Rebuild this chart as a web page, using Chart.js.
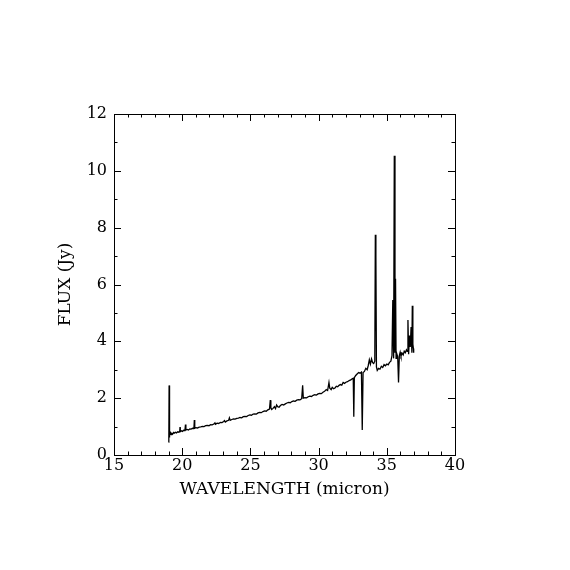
<!DOCTYPE html>
<html>
<head>
<meta charset="utf-8">
<script src="https://cdn.jsdelivr.net/npm/chart.js@4/dist/chart.umd.min.js"></script>
<style>
  html, body { margin: 0; padding: 0; background: #fff; }
  #wrap { width: 570px; height: 570px; }
</style>
</head>
<body>
<div id="wrap"><canvas id="chartFlux"></canvas></div>
<script>
// wavelength (micron) and flux (Jy)
const wavelength = [
  19.00, 19.02, 19.04, 19.05, 19.06, 19.08, 19.10, 19.14, 19.18, 19.24,
  19.30, 19.36, 19.42, 19.50, 19.58, 19.66, 19.74, 19.82, 19.84, 19.86,
  19.94, 20.02, 20.10, 20.20, 20.24, 20.27, 20.36, 20.46, 20.56, 20.66,
  20.76, 20.86, 20.89, 20.92, 21.00, 21.12, 21.24, 21.36, 21.48, 21.60,
  21.72, 21.84, 21.96, 22.08, 22.20, 22.32, 22.40, 22.44, 22.56, 22.68,
  22.80, 22.92, 23.04, 23.10, 23.16, 23.28, 23.40, 23.46, 23.52, 23.64,
  23.76, 23.88, 24.00, 24.12, 24.24, 24.36, 24.48, 24.60, 24.72, 24.84,
  24.96, 25.08, 25.20, 25.32, 25.44, 25.56, 25.68, 25.80, 25.92, 26.04,
  26.16, 26.28, 26.40, 26.46, 26.50, 26.56, 26.66, 26.76, 26.84, 26.92,
  27.00, 27.10, 27.20, 27.32, 27.44, 27.56, 27.68, 27.80, 27.92, 28.04,
  28.16, 28.28, 28.40, 28.52, 28.64, 28.76, 28.83, 28.88, 29.00, 29.12,
  29.24, 29.36, 29.48, 29.60, 29.72, 29.84, 29.96, 30.08, 30.20, 30.32,
  30.44, 30.56, 30.66, 30.76, 30.82, 30.92, 31.00, 31.10, 31.20, 31.30,
  31.40, 31.50, 31.60, 31.70, 31.80, 31.90, 32.00, 32.12, 32.24, 32.36,
  32.46, 32.54, 32.58, 32.62, 32.72, 32.84, 32.94, 33.04, 33.14, 33.20,
  33.26, 33.36, 33.46, 33.56, 33.64, 33.72, 33.80, 33.88, 33.96, 34.04,
  34.12, 34.16, 34.20, 34.24, 34.30, 34.40, 34.50, 34.60, 34.70, 34.80,
  34.90, 35.00, 35.10, 35.20, 35.30, 35.38, 35.44, 35.50, 35.55, 35.60,
  35.64, 35.68, 35.74, 35.80, 35.86, 35.92, 35.98, 36.04, 36.12, 36.20,
  36.28, 36.36, 36.44, 36.50, 36.55, 36.60, 36.66, 36.72, 36.78, 36.84,
  36.87, 36.91, 36.95, 36.97
];
const flux = [
  0.45, 0.55, 2.45, 2.10, 0.62, 0.85, 0.70, 0.78, 0.72, 0.76,
  0.74, 0.79, 0.77, 0.80, 0.78, 0.82, 0.80, 0.84, 0.98, 0.82,
  0.85, 0.83, 0.87, 0.86, 1.07, 0.88, 0.90, 0.88, 0.92, 0.91,
  0.94, 0.93, 1.23, 0.94, 0.96, 0.95, 0.98, 0.99, 1.01, 1.00,
  1.03, 1.04, 1.03, 1.07, 1.06, 1.09, 1.13, 1.08, 1.12, 1.11,
  1.15, 1.14, 1.18, 1.21, 1.16, 1.20, 1.22, 1.31, 1.22, 1.25,
  1.27, 1.26, 1.29, 1.30, 1.32, 1.31, 1.35, 1.36, 1.35, 1.39,
  1.41, 1.40, 1.44, 1.45, 1.44, 1.48, 1.50, 1.49, 1.53, 1.55,
  1.54, 1.59, 1.62, 1.93, 1.66, 1.60, 1.64, 1.70, 1.63, 1.76,
  1.70, 1.68, 1.74, 1.78, 1.76, 1.80, 1.83, 1.85, 1.84, 1.88,
  1.90, 1.89, 1.93, 1.95, 1.94, 1.98, 2.45, 2.00, 2.02, 2.01,
  2.05, 2.07, 2.06, 2.10, 2.12, 2.11, 2.15, 2.17, 2.16, 2.21,
  2.24, 2.30, 2.27, 2.55, 2.35, 2.30, 2.38, 2.33, 2.36, 2.42,
  2.40, 2.45, 2.48, 2.46, 2.55, 2.52, 2.56, 2.58, 2.62, 2.64,
  2.68, 2.70, 1.35, 2.72, 2.80, 2.86, 2.90, 2.88, 2.92, 0.88,
  2.90, 2.94, 3.05, 3.00, 3.15, 3.35, 3.20, 3.38, 3.25, 3.22,
  3.30, 7.75, 7.00, 3.10, 2.98, 3.05, 3.02, 3.12, 3.08, 3.18,
  3.14, 3.20, 3.17, 3.26, 3.30, 3.50, 5.45, 3.40, 10.53, 3.60,
  6.20, 3.40, 3.55, 3.45, 2.55, 3.50, 3.62, 3.48, 3.58, 3.52,
  3.65, 3.60, 3.70, 3.65, 4.75, 3.55, 4.20, 3.80, 4.50, 3.60,
  5.25, 3.90, 3.75, 3.60
];
const xTicks = [15, 20, 25, 30, 35, 40];
const yTicks = [0, 2, 4, 6, 8, 10, 12];

const points = wavelength.map(function (w, i) { return { x: w, y: flux[i] }; });

// caja del grafico con marcas hacia dentro (estilo PGPLOT)
const frameTicks = {
    id: 'frameTicks',
    afterDraw: function (chart) {
        const c = chart.ctx;
        const a = chart.chartArea;
        const xs = chart.scales.x;
        const ys = chart.scales.y;
        c.save();
        c.strokeStyle = '#000';
        c.lineWidth = 1;
        c.strokeRect(Math.round(a.left) + 0.5, Math.round(a.top) + 0.5,
                     Math.round(a.right - a.left), Math.round(a.bottom - a.top));
        c.beginPath();
        for (let v = xs.min; v <= xs.max; v += 1) {
            const px = Math.round(xs.getPixelForValue(v)) + 0.5;
            const len = (v % 5 === 0) ? 7 : 3.5;
            c.moveTo(px, a.bottom); c.lineTo(px, a.bottom - len);
            c.moveTo(px, a.top); c.lineTo(px, a.top + len);
        }
        for (let v = ys.min; v <= ys.max; v += 1) {
            const py = Math.round(ys.getPixelForValue(v)) + 0.5;
            const len = (v % 2 === 0) ? 7 : 3.5;
            c.moveTo(a.left, py); c.lineTo(a.left + len, py);
            c.moveTo(a.right, py); c.lineTo(a.right - len, py);
        }
        c.stroke();
        c.restore();
    }
};

const tickFont = { family: 'DejaVu Serif', size: 16 };
const titleFont = { family: 'DejaVu Serif', size: 17 };

new Chart(document.getElementById('chartFlux').getContext('2d'), {
    type: 'scatter',
    data: {
        datasets: [{
            data: points,
            showLine: true,
            borderColor: '#000',
            borderWidth: 1.3,
            pointRadius: 0,
            tension: 0
        }]
    },
    options: {
        responsive: true,
        maintainAspectRatio: false,
        animation: false,
        layout: { padding: { left: 0, top: 114, right: 115, bottom: 0 } },
        plugins: { legend: { display: false }, tooltip: { enabled: false } },
        scales: {
            x: {
                type: 'linear',
                min: 15, max: 40,
                grid: { display: false, drawTicks: false },
                border: { display: false },
                afterBuildTicks: function (s) { s.ticks = xTicks.map(function (v) { return { value: v }; }); },
                afterFit: function (s) { s.height = 115; },
                ticks: { color: '#000', font: tickFont, padding: 1, maxRotation: 0 },
                title: { display: true, text: 'WAVELENGTH (micron)', color: '#000', font: titleFont, padding: { top: 0, bottom: 70 } }
            },
            y: {
                type: 'linear',
                min: 0, max: 12,
                grid: { display: false, drawTicks: false },
                border: { display: false },
                afterBuildTicks: function (s) { s.ticks = yTicks.map(function (v) { return { value: v }; }); },
                afterFit: function (s) { s.width = 114; },
                ticks: { color: '#000', font: tickFont, padding: 7 },
                title: { display: true, text: 'FLUX (Jy)', color: '#000', font: titleFont, padding: { top: 55, bottom: 0 } }
            }
        }
    },
    plugins: [frameTicks]
});
</script>
</body>
</html>
